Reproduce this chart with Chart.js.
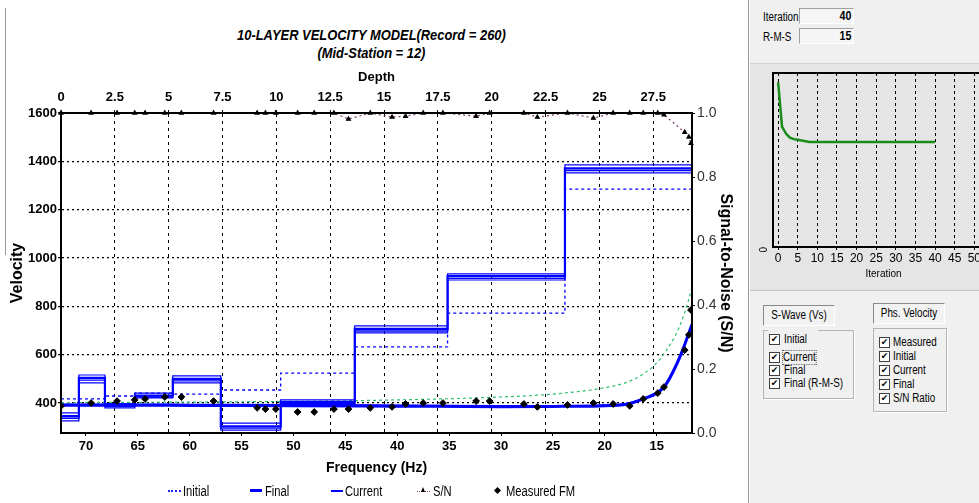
<!DOCTYPE html>
<html>
<head>
<meta charset="utf-8">
<script src="https://cdn.jsdelivr.net/npm/chart.js@4.4.1/dist/chart.umd.min.js"></script>
<style>
body{margin:0;width:979px;height:503px;overflow:hidden;position:relative;background:#fff;
  font-family:"Liberation Sans",Arial,sans-serif;color:#000}
.a{position:absolute}
#title{left:0;width:743px;top:26px;text-align:center;font-weight:bold;font-style:italic;font-size:15px;line-height:18px;
  transform:scaleX(.86);transform-origin:371px 0}
#edge{left:5px;top:8px;width:1px;height:247px;background:#999}
.lg{position:absolute;top:484px;font-size:14px;line-height:14px;white-space:nowrap;transform:scaleX(.8);transform-origin:0 0}
.smp{position:absolute;height:0}
#panel{left:748px;top:0;width:231px;height:503px;background:#f0f0f0;border-left:1px solid #9a9a9a;box-shadow:inset 1px 0 #fff}
#mid{left:750px;top:63px;width:229px;height:226px;background:#e5e5e5;border-top:1px solid #d2d2d2;border-bottom:1px solid #c4c4c4}
.lab{position:absolute;font-size:12px;line-height:14px;transform:scaleX(.82);transform-origin:0 0}
.fld{position:absolute;left:799px;width:53px;height:14px;background:#f5f5f5;border:1px solid;border-color:#a0a0a0 #fff #fff #a0a0a0}
.fld span{position:absolute;right:2px;top:0;font-weight:bold;font-size:13px;line-height:14px;transform:scaleX(.82);transform-origin:100% 0}
.btn{position:absolute;height:19px;border:1px solid;border-color:#8a8a8a #fff #fff #8a8a8a;background:#f2f2f2}
.btn span{display:block;font-size:12px;line-height:19px;text-align:center;transform:scaleX(.82)}
.grp{position:absolute;border:1px solid #b4b4b4;box-shadow:1px 1px 0 #fff}
.cb{position:absolute;width:9px;height:9px;border:1px solid #404040;background:#fff;font-family:"DejaVu Sans",sans-serif;
  font-size:9px;line-height:9px;text-align:center;font-weight:bold}
.ct{position:absolute;font-size:12px;line-height:13px;white-space:nowrap;transform:scaleX(.82);transform-origin:0 0}
</style>
</head>
<body>
<div id="edge" class="a"></div>
<div id="title" class="a">10-LAYER VELOCITY MODEL(Record = 260)<br>(Mid-Station = 12)</div>
<canvas id="velChart" class="a" style="left:0;top:0" width="745" height="503"></canvas>

<!-- legend -->
<div class="smp" style="left:168px;width:13px;border-top:2px dotted #2424ff;top:490px"></div>
<div class="lg" style="left:183px">Initial</div>
<div class="smp" style="left:250px;width:12px;border-top:3px solid #0000ff;top:489px"></div>
<div class="lg" style="left:265px">Final</div>
<div class="smp" style="left:331px;width:12px;border-top:2px solid #0000ff;top:490px"></div>
<div class="lg" style="left:345px">Current</div>
<div class="smp" style="left:417px;width:13px;border-top:1px dotted #7d3c6e;top:491px"></div>
<div class="a" style="left:421px;top:487px;width:0;height:0;border-left:2.5px solid transparent;border-right:2.5px solid transparent;border-bottom:5px solid #000"></div>
<div class="lg" style="left:433px">S/N</div>
<div class="a" style="left:495px;top:488px;width:5px;height:5px;background:#000;transform:rotate(45deg)"></div>
<div class="lg" style="left:506px">Measured FM</div>

<!-- right panel -->
<div id="panel" class="a"></div>
<div class="lab" style="left:763px;top:10px">Iteration</div>
<div class="fld" style="top:8px"><span>40</span></div>
<div class="lab" style="left:763px;top:30px">R-M-S</div>
<div class="fld" style="top:28px"><span>15</span></div>
<div id="mid" class="a"></div>
<canvas id="rmsChart" class="a" style="left:752px;top:63px" width="250" height="225"></canvas>

<div class="grp" style="left:763px;top:330px;width:89px;height:67px"></div>
<div class="a" style="left:768px;top:328px;width:50px;height:5px;background:#f0f0f0"></div>
<div class="btn" style="left:763px;top:305px;width:70px"><span>S-Wave (Vs)</span></div>
<div class="cb" style="left:769px;top:334px">✔</div><div class="ct" style="left:784px;top:333px">Initial</div>
<div class="cb" style="left:769px;top:352px">✔</div><div class="ct" style="left:783px;top:351px;outline:1px dotted #555">Current</div>
<div class="cb" style="left:769px;top:365px">✔</div><div class="ct" style="left:784px;top:364px">Final</div>
<div class="cb" style="left:769px;top:378px">✔</div><div class="ct" style="left:784px;top:377px">Final (R-M-S)</div>

<div class="btn" style="left:873px;top:303px;width:70px"><span>Phs. Velocity</span></div>
<div class="grp" style="left:873px;top:328px;width:72px;height:82px"></div>
<div class="cb" style="left:879px;top:337px">✔</div><div class="ct" style="left:893px;top:336px">Measured</div>
<div class="cb" style="left:879px;top:351px">✔</div><div class="ct" style="left:893px;top:350px">Initial</div>
<div class="cb" style="left:879px;top:365px">✔</div><div class="ct" style="left:893px;top:364px">Current</div>
<div class="cb" style="left:879px;top:379px">✔</div><div class="ct" style="left:893px;top:378px">Final</div>
<div class="cb" style="left:879px;top:393px">✔</div><div class="ct" style="left:893px;top:392px">S/N Ratio</div>

<script>
// ---- S-wave velocity profile (10 layers, top depth of each layer) ----
const depthTops = [0, 0.83, 2.04, 3.43, 5.19, 7.42, 10.2, 13.64, 17.95, 23.4];
const depthMax = 29.3;
const vsInitial = [417, 417, 429, 441, 437, 454, 524, 632, 772, 1285];
const vsRmsHigh = [359, 516, 398, 441, 512, 317, 413, 719, 934, 1385];
const vsFinal   = [346, 504, 391, 431, 500, 303, 404, 707, 925, 1371];
const vsCurrent = [337, 495, 386, 425, 492, 296, 398, 698, 916, 1362];
const vsRmsLow  = [326, 483, 380, 421, 483, 288, 392, 690, 909, 1352];

// ---- dispersion curves (phase velocity vs frequency) ----
const dispFreq    = [72.4, 65, 60, 50, 40, 30, 25, 20.5, 17.8, 16.3, 15.0, 14.2, 13.2, 12.5, 11.9, 11.6];
const dispInitial = [402, 403, 404, 407, 413, 425, 437, 460, 487, 520, 566, 610, 680, 750, 830, 880];
const dispCurrent = [395, 395, 394, 393, 391, 389, 389, 391, 399, 419, 444, 475, 553, 623, 692, 728];
const dispFinal   = [391, 391, 390, 389, 387, 385, 386, 388, 396, 417, 441, 471, 549, 619, 690, 725];

// ---- measured fundamental mode + signal-to-noise ----
const fmFreq = [72.4, 69.5, 67.0, 65.3, 64.3, 62.4, 60.8, 57.7, 53.5, 52.7, 51.7, 49.6, 48.0, 46.1, 44.7, 42.6, 40.5,
                39.2, 37.5, 35.6, 32.4, 31.1, 27.8, 26.5, 23.6, 21.1, 19.2, 17.6, 16.3, 14.9, 14.3, 12.3, 11.9, 11.7];
const fmVel  = [388, 400, 408, 413, 417, 425, 425, 408, 380, 375, 375, 363, 363, 375, 375, 380, 384,
                396, 400, 400, 408, 408, 396, 384, 392, 400, 396, 388, 417, 441, 466, 619, 682, 785];
const snRatio = [1, 1, 1, 1, 1, 1, 1, 1, 1, 1, 1, 1, 1, 1, 0.981, 1, 0.987,
                 0.99, 1, 1, 0.99, 1, 1, 0.987, 1, 0.984, 1, 1, 1, 1, 0.994, 0.94, 0.925, 0.905];

// ---- axis ticks ----
const depthTicks = [0, 2.5, 5, 7.5, 10, 12.5, 15, 17.5, 20, 22.5, 25, 27.5];
const freqTicks = [15, 20, 25, 30, 35, 40, 45, 50, 55, 60, 65, 70];
const velTicks = [400, 600, 800, 1000, 1200, 1400, 1600];
const snTicks = [0, 0.2, 0.4, 0.6, 0.8, 1.0];
const freqMin = 11.6, freqMax = 72.4, velMin = 276, velMax = 1600;

// ---- inversion history ----
const iterNums = [0,1,2,3,4,5,6,7,8,9,10,11,12,13,14,15,16,17,18,19,20,21,22,23,24,25,26,27,28,29,30,31,32,33,34,35,36,37,38,39,40];
const rmsError = [23.7,17.3,16.3,15.7,15.5,15.4,15.3,15.2,15.1,15.1,15.1,15.1,15.1,15.1,15.1,15.1,15.1,15.1,15.1,15.1,15.1,
                  15.1,15.1,15.1,15.1,15.1,15.1,15.1,15.1,15.1,15.1,15.1,15.1,15.1,15.1,15.1,15.1,15.1,15.1,15.1,15.1];
const iterTicks = [0, 5, 10, 15, 20, 25, 30, 35, 40, 45, 50, 55];

const sans = '"Liberation Sans", Arial, sans-serif';
const BLUE = '#0000ff';

function stepPts(tops, vals, xEnd){
  const p = tops.map((d,i) => ({x:d, y:vals[i]}));
  p.push({x:xEnd, y:vals[vals.length-1]});
  return p;
}
function xy(xs, ys){ return xs.map((x,i) => ({x:x, y:ys[i]})); }
function fixTicks(list){ return s => { s.ticks = list.map(v => ({value:v})); }; }

const vsLine = (label, vals, w, dash) => ({
  label:label, data:stepPts(depthTops, vals, depthMax), xAxisID:'xd', yAxisID:'y', stepped:'before',
  borderColor:BLUE, borderWidth:w, borderDash:dash||[], pointRadius:0, fill:false
});

new Chart(document.getElementById('velChart').getContext('2d'), {
  type:'line',
  data:{datasets:[
    {label:'Measured FM', data:xy(fmFreq, fmVel), xAxisID:'x', yAxisID:'y', showLine:false,
     pointStyle:'rectRot', pointRadius:3.4, pointBackgroundColor:'#000', pointBorderColor:'#000', pointBorderWidth:1},
    {label:'S/N', data:xy(fmFreq, snRatio), xAxisID:'x', yAxisID:'y2', borderColor:'#7d3c6e', borderWidth:1.2,
     borderDash:[2,3], pointStyle:'triangle', pointRadius:2.2, pointBackgroundColor:'#000', pointBorderColor:'#000', clip:false},
    {label:'Final', data:xy(dispFreq, dispFinal), xAxisID:'x', yAxisID:'y', borderColor:BLUE, borderWidth:3,
     pointRadius:0, cubicInterpolationMode:'monotone'},
    {label:'Current', data:xy(dispFreq, dispCurrent), xAxisID:'x', yAxisID:'y', borderColor:BLUE, borderWidth:1.5,
     pointRadius:0, cubicInterpolationMode:'monotone'},
    vsLine('Final Vs', vsFinal, 2.2),
    vsLine('Current Vs', vsCurrent, 1.3),
    vsLine('RMS high', vsRmsHigh, 1.2),
    vsLine('RMS low', vsRmsLow, 1.2),
    vsLine('Initial Vs', vsInitial, 1.3, [3,3]),
    {label:'Initial', data:xy(dispFreq, dispInitial), xAxisID:'x', yAxisID:'y', borderColor:'#2dbf6e', borderWidth:1.2,
     borderDash:[3,3], pointRadius:0, cubicInterpolationMode:'monotone'}
  ]},
  options:{
    responsive:false, animation:false, devicePixelRatio:1,
    layout:{padding:{top:60, left:0, right:0, bottom:26}},
    plugins:{legend:{display:false}, tooltip:{enabled:false}},
    scales:{
      x:{type:'linear', position:'bottom', reverse:true, min:freqMin, max:freqMax, afterBuildTicks:fixTicks(freqTicks),
        ticks:{font:{family:sans, size:13, weight:'bold'}, color:'#000', padding:3, maxRotation:0, autoSkip:false, callback:v => String(v)},
        grid:{drawOnChartArea:false, tickLength:3, color:'#000'},
        border:{display:true, color:'#000', width:2, z:1},
        title:{display:true, text:'Frequency (Hz)', font:{family:sans, size:14, weight:'bold'}, color:'#000', padding:{top:0, bottom:0}},
        afterFit:s => { s.height = 44; }},
      xd:{type:'linear', position:'top', min:0, max:depthMax, afterBuildTicks:fixTicks(depthTicks),
        ticks:{font:{family:sans, size:13, weight:'bold'}, color:'#000', padding:5, maxRotation:0, autoSkip:false, callback:v => String(v)},
        grid:{color:'#000', tickBorderDash:[], tickLength:3, lineWidth:1},
        border:{display:true, color:'#000', width:2, z:1, dash:[3,4]},
        title:{display:true, text:'Depth', font:{family:sans, size:13, weight:'bold'}, color:'#000', padding:{top:10, bottom:0}},
        afterFit:s => { s.height = 53; }},
      y:{type:'linear', position:'left', min:velMin, max:velMax, afterBuildTicks:fixTicks(velTicks),
        ticks:{font:{family:sans, size:13, weight:'bold'}, color:'#000', padding:1, autoSkip:false, callback:v => String(v)},
        grid:{color:'#000', tickBorderDash:[], tickLength:3, lineWidth:1.2},
        border:{display:true, color:'#000', width:2, z:1, dash:[2,3]},
        title:{display:true, text:'Velocity', font:{family:sans, size:16, weight:'bold'}, color:'#000', padding:{top:8, bottom:0}},
        afterFit:s => { s.width = 61; }},
      y2:{type:'linear', position:'right', min:0, max:1, afterBuildTicks:fixTicks(snTicks),
        ticks:{font:{family:sans, size:14}, color:'#333', padding:2, autoSkip:false, callback:v => v.toFixed(1)},
        grid:{drawOnChartArea:false, tickLength:3, color:'#000'},
        border:{display:true, color:'#000', width:2, z:1},
        title:{display:true, text:'Signal-to-Noise (S/N)', font:{family:sans, size:16, weight:'bold'}, color:'#000', padding:{top:10, bottom:0}},
        afterFit:s => { s.width = 53; }}
    }
  }
});

// RMS error vs iteration
new Chart(document.getElementById('rmsChart').getContext('2d'), {
  type:'line',
  data:{datasets:[{label:'R-M-S', data:xy(iterNums, rmsError), borderColor:'#1a8c1a', borderWidth:2.5, pointRadius:0}]},
  options:{
    responsive:false, animation:false, devicePixelRatio:1,
    layout:{padding:{top:10, left:0, right:8, bottom:0}},
    plugins:{legend:{display:false}, tooltip:{enabled:false}},
    scales:{
      x:{type:'linear', min:-1.3, max:55, afterBuildTicks:fixTicks(iterTicks),
        ticks:{font:{family:sans, size:12}, color:'#000', padding:1, maxRotation:0, autoSkip:false},
        grid:{color:'#000', tickBorderDash:[], tickLength:3, lineWidth:1},
        border:{display:true, color:'#000', width:2, z:1, dash:[3,3]},
        title:{display:true, text:'Iteration', font:{family:sans, size:10}, color:'#000', padding:{top:0, bottom:8}},
        afterFit:s => { s.height = 41; }},
      t:{axis:'x', type:'linear', position:'top', min:0, max:1, ticks:{display:false}, grid:{display:false},
        border:{display:true, color:'#000', width:2, z:1}, afterFit:s => { s.height = 0; }},
      y:{type:'linear', min:0, max:25, afterBuildTicks:fixTicks([0]),
        ticks:{font:{family:sans, size:10}, color:'#000', padding:1, minRotation:90, maxRotation:90},
        grid:{display:false},
        border:{display:true, color:'#000', width:2, z:1},
        afterFit:s => { s.width = 21; }}
    }
  }
});
</script>
</body>
</html>
